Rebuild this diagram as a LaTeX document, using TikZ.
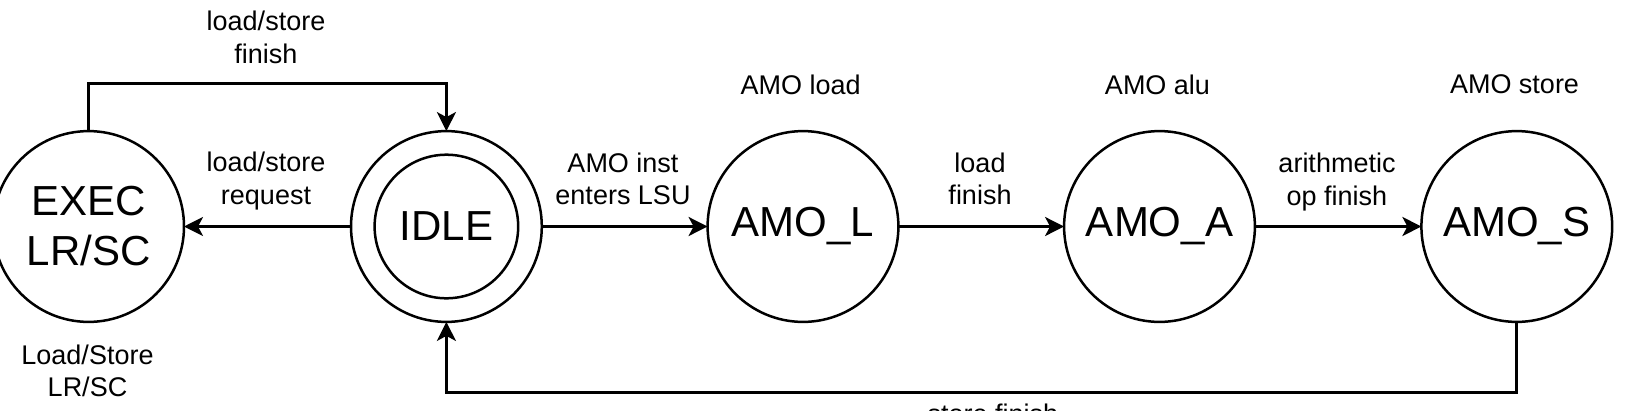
\documentclass[tikz,border=0pt]{standalone}
\usepackage{fontspec}
\setmainfont{Liberation Sans}
\usetikzlibrary{arrows.meta}
\begin{document}
\begin{tikzpicture}[x=1pt,y=-1pt,
  state/.style={circle, draw, line width=2.5pt, minimum size=190.8pt, inner sep=0pt, outer sep=0pt,
    font=\fontsize{42}{50}\selectfont, align=center},
  lbl/.style={font=\fontsize{27}{32.5}\selectfont, align=center, inner sep=0pt},
  conn/.style={line width=2.7pt, -{Stealth[length=19pt,width=19pt,inset=5pt]}}
]
\clip (0,0) rectangle (1647,410);
\fill[white] (0,0) rectangle (1647,410);

\node[state] (exec) at (88.6,226.5) {EXEC\\LR/SC};
\node[state] (idle) at (446.4,226.5) {IDLE};
\draw[line width=2.5pt] (idle.center) circle[radius=71.8pt];
\node[state] (amol) at (803,226.5) {AMO\_L};
\node[state] (amoa) at (1159.5,226.5) {AMO\_A};
\node[state] (amos) at (1516.8,226.5) {AMO\_S};

\coordinate (ytop) at (0,83.3);
\coordinate (ybot) at (0,392.7);

\draw[conn] (exec.north) |- (idle.north |- ytop) -- (idle.north);
\draw[conn] (idle.west) -- (exec.east);
\draw[conn] (idle.east) -- (amol.west);
\draw[conn] (amol.east) -- (amoa.west);
\draw[conn] (amoa.east) -- (amos.west);
\draw[conn] (amos.south) |- (idle.south |- ybot) -- (idle.south);

\node[lbl] (l1) at (266,37.5) {load/store\\finish};
\node[lbl] (l2) at (266,181) {load/store\\request};
\node[lbl] (l3) at (623,179) {AMO inst\\enters LSU};
\node[lbl] (l4) at (980,179) {load\\finish};
\node[lbl] (l5) at (1337,182) {arithmetic\\op finish};
\node[lbl] (l6) at (800.7,84.7) {AMO load};
\node[lbl] (l7) at (1157.5,84.7) {AMO alu};
\node[lbl] (l8) at (1514.5,84.7) {AMO store};
\node[lbl] (l9) at (87.5,370.8) {Load/Store\\LR/SC};
\node[lbl, anchor=base] (l10) at (993,423) {store finish};
\end{tikzpicture}
\end{document}
